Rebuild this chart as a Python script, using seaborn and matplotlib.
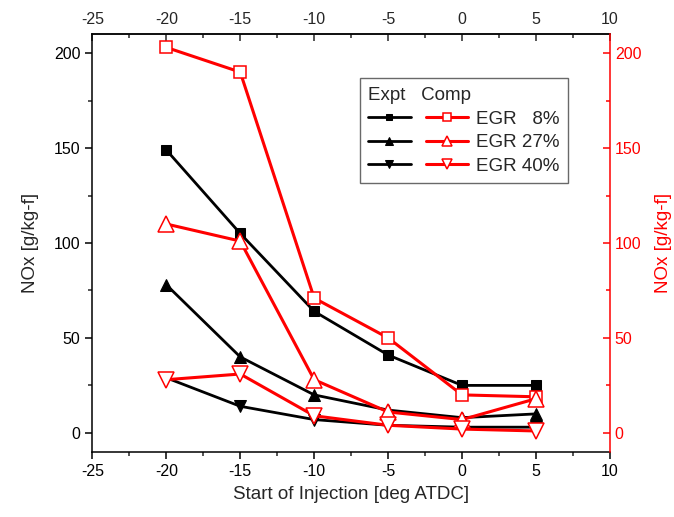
import matplotlib
matplotlib.use("Agg")
import matplotlib.pyplot as plt
from matplotlib.legend_handler import HandlerTuple
from matplotlib.ticker import MultipleLocator
import seaborn as sns

# Start of injection [deg ATDC]
soi = [-20, -15, -10, -5, 0, 5]

# NOx [g/kg-f], experiment
expt_egr8 = [149, 105, 64, 41, 25, 25]
expt_egr27 = [78, 40, 20, 12, 8, 10]
expt_egr40 = [29, 14, 7, 4, 3, 3]

# NOx [g/kg-f], computation
comp_egr8 = [203, 190, 71, 50, 20, 19]
comp_egr27 = [110, 101, 28, 11, 7, 18]
comp_egr40 = [28, 31, 9, 4, 2, 1]

labels = ["EGR   8%", "EGR 27%", "EGR 40%"]

sns.set_style("ticks")
plt.rcParams["font.family"] = ["Liberation Sans", "DejaVu Sans"]
plt.rcParams["axes.unicode_minus"] = False

fig = plt.figure(figsize=(6.74, 5.17), dpi=100)
ax = fig.add_axes([0.137, 0.126, 0.768, 0.808])
ax2 = ax.twinx()

markers = ["s", "^", "v"]
msizes = [6.5, 8.5, 8.5]
open_sizes = [8.5, 11, 11]
expt_handles, comp_handles = [], []
for ys, mk, ms in zip([expt_egr8, expt_egr27, expt_egr40], markers, msizes):
    sns.lineplot(x=soi, y=ys, ax=ax, color="black", linewidth=2.0, marker=mk,
                 markersize=ms, markeredgecolor="black", markerfacecolor="black")
    expt_handles.append(ax.lines[-1])
for ys, mk, ms in zip([comp_egr8, comp_egr27, comp_egr40], markers, open_sizes):
    sns.lineplot(x=soi, y=ys, ax=ax2, color="red", linewidth=2.2, marker=mk,
                 markersize=ms, markeredgecolor="red", markerfacecolor="white",
                 markeredgewidth=1.1)
    comp_handles.append(ax2.lines[-1])

for a in (ax, ax2):
    a.set_xlim(-25, 10)
    a.set_ylim(-10, 210)

ax.xaxis.set_major_locator(MultipleLocator(5))
ax.xaxis.set_minor_locator(MultipleLocator(2.5))
ax.yaxis.set_major_locator(MultipleLocator(50))
ax.yaxis.set_minor_locator(MultipleLocator(25))
ax2.yaxis.set_major_locator(MultipleLocator(50))
ax2.yaxis.set_minor_locator(MultipleLocator(25))

ax.tick_params(axis="both", which="major", direction="out", length=5, width=1.1,
               labelsize=11.5, colors="black", top=False, right=False)
ax.tick_params(axis="both", which="minor", direction="out", length=3, width=1.1,
               top=False, right=False)

ax2.tick_params(axis="y", which="major", direction="in", length=5, width=1.1,
                labelsize=11.5, colors="red")
ax2.tick_params(axis="y", which="minor", direction="in", length=3, width=1.1,
                colors="red")

top = ax.secondary_xaxis("top")
top.xaxis.set_major_locator(MultipleLocator(5))
top.xaxis.set_minor_locator(MultipleLocator(2.5))
top.tick_params(which="major", direction="in", length=5, width=1.1, labelsize=11.5,
                pad=5)
top.tick_params(which="minor", direction="in", length=3, width=1.1)
top.spines["top"].set_linewidth(1.1)

for s in ax.spines.values():
    s.set_linewidth(1.1)
    s.set_color("black")
ax.spines["right"].set_visible(False)
for name in ("left", "top", "bottom"):
    ax2.spines[name].set_visible(False)
ax2.spines["right"].set_color("red")
ax2.spines["right"].set_linewidth(1.1)

ax.set_xlabel("Start of Injection [deg ATDC]", fontsize=13.5, labelpad=5)
ax.set_ylabel("NOx [g/kg-f]", fontsize=13.5, labelpad=11)
ax2.set_ylabel("NOx [g/kg-f]", fontsize=13.5, color="red", rotation=90, labelpad=10)

leg = ax2.legend(
    [(e, c) for e, c in zip(expt_handles, comp_handles)], labels,
    handler_map={tuple: HandlerTuple(ndivide=None, pad=0.8)},
    title="Expt   Comp", title_fontsize=13.5, alignment="left",
    fontsize=13.5, handlelength=5.3, handletextpad=0.45, labelspacing=0.35,
    borderpad=0.45, loc="upper left", bbox_to_anchor=(0.517, 0.894),
    borderaxespad=0, frameon=True, fancybox=False, numpoints=1, markerscale=0.7,
)
leg.get_frame().set_edgecolor("#444444")
leg.get_frame().set_linewidth(1.0)

fig.savefig("out.png", dpi=100)
